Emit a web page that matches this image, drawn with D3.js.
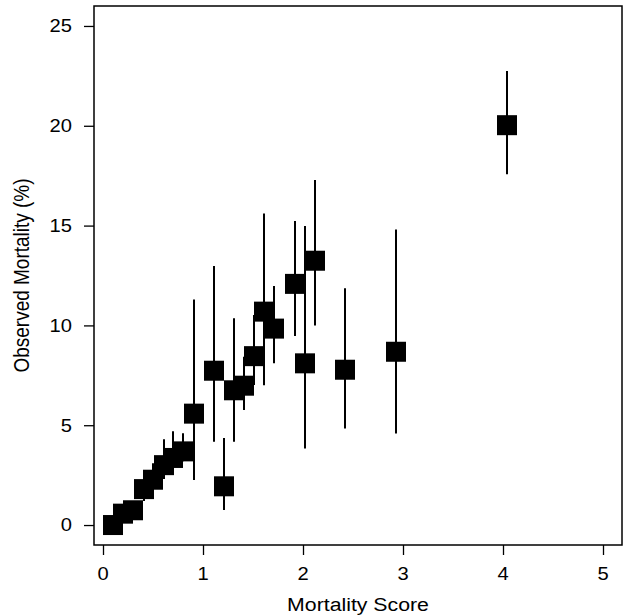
<!DOCTYPE html>
<html>
<head>
<meta charset="utf-8">
<script src="https://cdn.jsdelivr.net/npm/d3@7"></script>
<style>
  html, body { margin: 0; padding: 0; background: #fff; }
  svg { display: block; }
  text { font-family: "Liberation Sans", Arial, sans-serif; fill: #000; }
</style>
</head>
<body>
<svg id="chart" width="624" height="615"></svg>
<script>
// ---- data ----
const scores   = [0.1, 0.2, 0.3, 0.41, 0.5, 0.61, 0.7, 0.8, 0.91, 1.11, 1.21, 1.31, 1.41, 1.51, 1.61, 1.71, 1.92, 2.02, 2.12, 2.42, 2.93, 4.04];
const observed = [0.0, 0.57, 0.74, 1.8, 2.27, 3.0, 3.36, 3.69, 5.58, 7.73, 1.94, 6.75, 6.98, 8.46, 10.69, 9.84, 12.08, 8.1, 13.24, 7.78, 8.68, 20.03];
const lower    = [0.0, 0.2, 0.3, 1.2, 1.6, 2.3, 2.6, 3.2, 2.25, 4.17, 0.75, 4.17, 5.76, 7.01, 7.0, 8.1, 9.47, 3.84, 10.0, 4.84, 4.59, 17.57];
const upper    = [0.4, 1.0, 1.2, 2.5, 3.1, 4.3, 4.7, 4.6, 11.3, 12.98, 4.36, 10.36, 8.43, 10.52, 15.6, 11.97, 15.23, 14.98, 17.28, 11.86, 14.8, 22.75];
const xTicks   = [0, 1, 2, 3, 4, 5];
const yTicks   = [0, 5, 10, 15, 20, 25];
const xTitle   = "Mortality Score";
const yTitle   = "Observed Mortality (%)";

// ---- layout ----
const frame = { left: 94, right: 622, top: 6, bottom: 545 };
const xDomain = [-0.09, 5.19];
const yDomain = [-1.0, 26.0];
const markerSize = 20;
const tickFont = 18, titleFont = 19, stretch = 1.12;

const svg = d3.select("#chart");
const x = d3.scaleLinear().domain(xDomain).range([frame.left, frame.right]);
const y = d3.scaleLinear().domain(yDomain).range([frame.bottom, frame.top]);

const data = scores.map((s, i) => ({ s, v: observed[i], lo: lower[i], hi: upper[i] }));

// axes (tick marks)
const xAxis = d3.axisBottom(x).tickValues(xTicks).tickFormat("").tickSizeOuter(0).tickSize(10);
const yAxis = d3.axisLeft(y).tickValues(yTicks).tickFormat("").tickSizeOuter(0).tickSize(10);
const gx = svg.append("g").attr("transform", `translate(0,${frame.bottom})`).call(xAxis);
const gy = svg.append("g").attr("transform", `translate(${frame.left},0)`).call(yAxis);
[gx, gy].forEach(g => {
  g.select(".domain").remove();
  g.selectAll(".tick line").attr("stroke", "#000").attr("stroke-width", 1.3);
});

// tick labels (slightly wide glyphs as in the scanned figure)
const fmt = d3.format("d");
svg.append("g").selectAll("text").data(xTicks).join("text")
  .attr("transform", d => `translate(${x(d)},${frame.bottom + 35}) scale(${stretch},1)`)
  .attr("text-anchor", "middle").attr("font-size", tickFont)
  .text(fmt);
svg.append("g").selectAll("text").data(yTicks).join("text")
  .attr("transform", d => `translate(${frame.left - 22},${y(d)}) scale(${stretch},1)`)
  .attr("text-anchor", "end").attr("dy", "0.35em").attr("font-size", tickFont)
  .text(fmt);

// frame
svg.append("rect")
  .attr("x", frame.left).attr("y", frame.top)
  .attr("width", frame.right - frame.left).attr("height", frame.bottom - frame.top)
  .attr("fill", "none").attr("stroke", "#000").attr("stroke-width", 1.5);

// error bars
svg.append("g").selectAll("line").data(data).join("line")
  .attr("x1", d => x(d.s)).attr("x2", d => x(d.s))
  .attr("y1", d => y(d.lo)).attr("y2", d => y(d.hi))
  .attr("stroke", "#000").attr("stroke-width", 2);

// square markers
svg.append("g").selectAll("rect").data(data).join("rect")
  .attr("x", d => x(d.s) - markerSize / 2).attr("y", d => y(d.v) - markerSize / 2)
  .attr("width", markerSize).attr("height", markerSize)
  .attr("fill", "#000");

// titles
svg.append("text")
  .attr("transform", `translate(${(frame.left + frame.right) / 2},611) scale(${stretch},1)`)
  .attr("text-anchor", "middle").attr("font-size", titleFont)
  .text(xTitle);
svg.append("text")
  .attr("transform", `translate(29,${(frame.top + frame.bottom) / 2}) scale(${stretch},1) rotate(-90)`)
  .attr("text-anchor", "middle").attr("font-size", titleFont)
  .text(yTitle);
</script>
</body>
</html>
